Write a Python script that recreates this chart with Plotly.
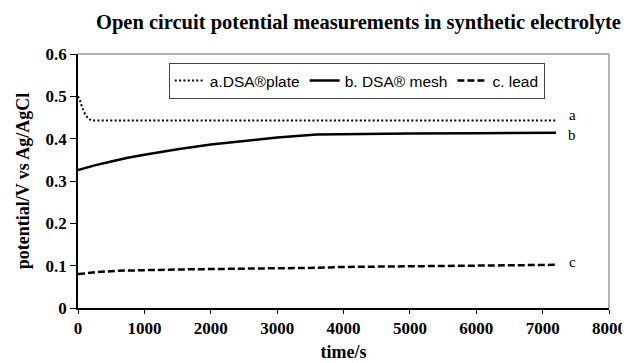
import plotly.graph_objects as go

# Data
t_a = [0, 30, 60, 100, 150, 200, 1000, 2000, 3000, 4000, 5000, 6000, 7200]
v_a = [0.500, 0.490, 0.475, 0.460, 0.448, 0.443, 0.443, 0.443, 0.443, 0.443, 0.443, 0.443, 0.443]

t_b = [0, 250, 500, 750, 1000, 1500, 2000, 2500, 3000, 3600, 4000, 5000, 6000, 7200]
v_b = [0.326, 0.337, 0.346, 0.355, 0.362, 0.375, 0.386, 0.395, 0.403, 0.410, 0.411, 0.412, 0.413, 0.414]

t_c = [0, 100, 300, 600, 1000, 1500, 2000, 3000, 3600, 4000, 5000, 6000, 7200]
v_c = [0.080, 0.082, 0.085, 0.088, 0.090, 0.091, 0.092, 0.093, 0.095, 0.097, 0.099, 0.100, 0.102]

series_names = ["a.DSA®plate", "b. DSA® mesh", "c. lead"]
end_labels = ["a", "b", "c"]
label_y = [0.456, 0.409, 0.108]
label_x = 7450
x_ticks = [0, 1000, 2000, 3000, 4000, 5000, 6000, 7000, 8000]
y_ticks = [0, 0.1, 0.2, 0.3, 0.4, 0.5, 0.6]
y_tick_text = ["0", "0.1", "0.2", "0.3", "0.4", "0.5", "0.6"]

serif = "Liberation Serif"
sans = "Liberation Sans"

fig = go.Figure()
fig.add_trace(go.Scatter(x=t_a, y=v_a, mode="lines", name=series_names[0],
                         line=dict(color="black", width=2, dash="2px,2.3px")))
fig.add_trace(go.Scatter(x=t_b, y=v_b, mode="lines", name=series_names[1],
                         line=dict(color="black", width=2.5, dash="solid")))
fig.add_trace(go.Scatter(x=t_c, y=v_c, mode="lines", name=series_names[2],
                         line=dict(color="black", width=2.5, dash="7px,3px")))

for lab, yv in zip(end_labels, label_y):
    fig.add_annotation(x=label_x, y=yv, text=lab, showarrow=False,
                       font=dict(family=serif, size=15, color="black"),
                       xanchor="center", yanchor="middle")

# gray frame on top and right
fig.add_shape(type="line", xref="paper", yref="paper", x0=0, x1=1, y0=1, y1=1,
              line=dict(color="#999999", width=1.5), layer="below")
fig.add_shape(type="line", xref="paper", yref="paper", x0=1, x1=1, y0=0, y1=1,
              line=dict(color="#999999", width=1.5), layer="below")

# page body has an 8px default margin, so the figure is drawn 8px smaller
fig.update_layout(
    width=622, height=355,
    margin=dict(l=70, r=21, t=46, b=55, autoexpand=False),
    paper_bgcolor="white", plot_bgcolor="white",
    title=dict(text="<b>Open circuit potential measurements in synthetic electrolyte</b>",
               x=0.5635, xanchor="center", y=0.961, yanchor="middle", yref="container",
               font=dict(family=serif, size=20.5, color="black")),
    showlegend=True,
    legend=dict(orientation="h", x=0.171, y=0.965, xanchor="left", yanchor="top",
                bgcolor="white", bordercolor="#444444", borderwidth=1,
                font=dict(family=sans, size=15.5, color="black"),
                itemwidth=30, tracegroupgap=0),
    xaxis=dict(range=[0, 8000], tickvals=x_ticks,
               ticktext=["<b>%d</b>" % v for v in x_ticks],
               ticks="outside", ticklen=4, automargin=False,
               tickcolor="black", showline=True, linecolor="black", linewidth=1.5,
               showgrid=False, zeroline=False,
               tickfont=dict(family=serif, size=17, color="black"),
               title=dict(text="<b>time/s</b>", standoff=8,
                          font=dict(family=serif, size=18, color="black"))),
    yaxis=dict(range=[0, 0.6], tickvals=y_ticks,
               ticktext=["<b>%s</b>" % s for s in y_tick_text],
               ticks="outside", ticklen=6, tickcolor="black", automargin=False,
               showline=True, linecolor="black", linewidth=1.5,
               showgrid=False, zeroline=False,
               tickfont=dict(family=serif, size=17, color="black"),
               title=dict(text="<b>potential/V vs Ag/AgCl</b>", standoff=11,
                          font=dict(family=serif, size=18, color="black"))),
)

fig.write_html("out.html")
